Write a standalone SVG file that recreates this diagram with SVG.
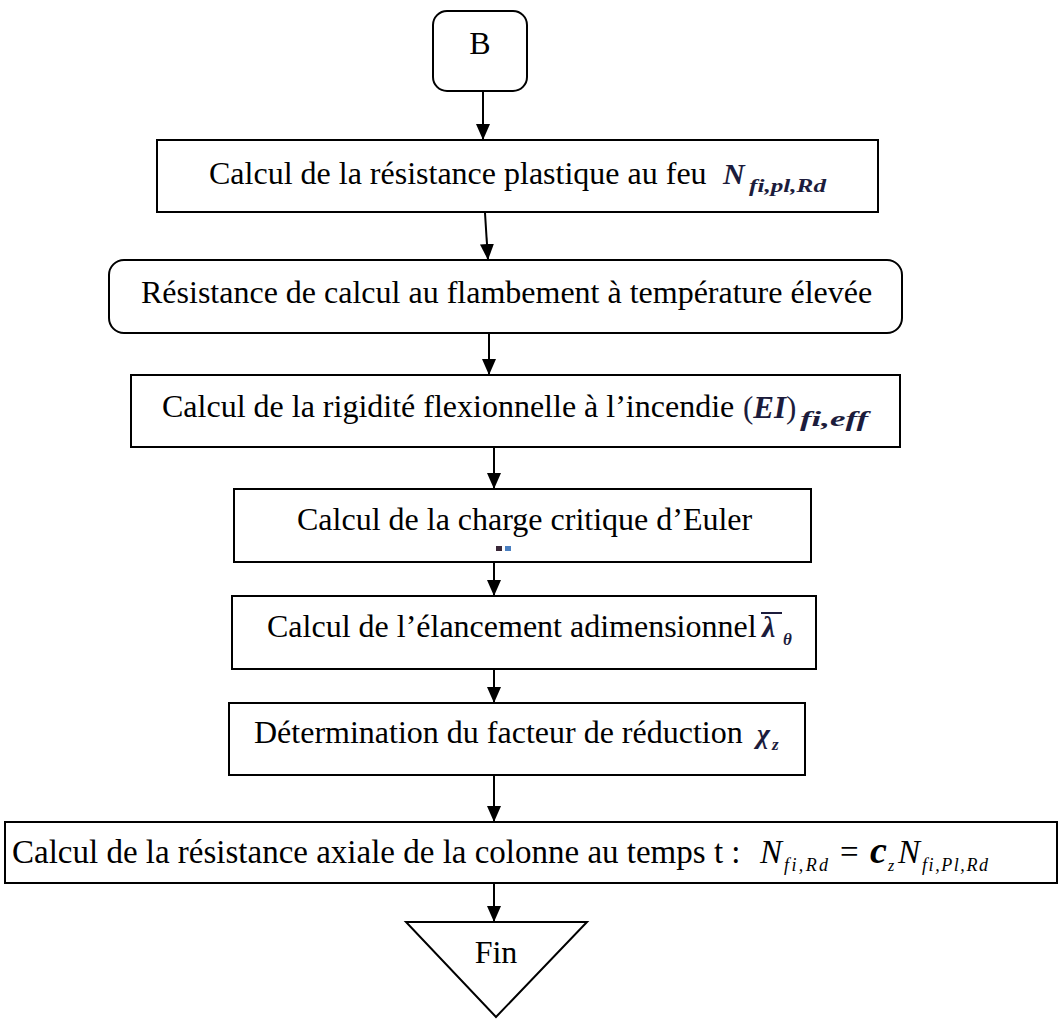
<svg xmlns="http://www.w3.org/2000/svg" width="1059" height="1019" viewBox="0 0 1059 1019">
<style>
.box{fill:#fff;stroke:#000;stroke-width:2}
.t{font-family:"Liberation Serif","Times New Roman",serif;font-size:32px;fill:#000}
.m{font-family:"Liberation Serif","Times New Roman",serif;font-style:italic;font-weight:bold;fill:#1c1c3c}
.mi{font-family:"Liberation Serif","Times New Roman",serif;font-style:italic;fill:#000}
.c line,.c path{stroke:#000;stroke-width:2;fill:none}
</style>
<defs>
<marker id="ah" markerUnits="userSpaceOnUse" markerWidth="16" markerHeight="14" refX="16" refY="7" orient="auto">
<path d="M0,0 L16,7 L0,14 z" fill="#000"/>
</marker>
</defs>
<rect width="1059" height="1019" fill="#fff"/>
<g id="connectors" class="c">
<line x1="483" y1="91" x2="483" y2="140" marker-end="url(#ah)"/>
<line x1="485" y1="213" x2="488" y2="260" marker-end="url(#ah)"/>
<line x1="489" y1="334" x2="489" y2="375" marker-end="url(#ah)"/>
<line x1="494" y1="448" x2="494" y2="489" marker-end="url(#ah)"/>
<line x1="494" y1="563" x2="494" y2="596" marker-end="url(#ah)"/>
<line x1="494" y1="670" x2="494" y2="703" marker-end="url(#ah)"/>
<line x1="494" y1="776" x2="494" y2="822" marker-end="url(#ah)"/>
<line x1="494" y1="884" x2="494" y2="922" marker-end="url(#ah)"/>
</g>
<g id="start">
<rect class="box" x="433" y="11" width="94" height="80" rx="14"/>
<text class="t" x="480" y="54" text-anchor="middle">B</text>
</g>
<g id="n1">
<rect class="box" x="157" y="140" width="721" height="72"/>
<text class="t" x="209" y="184">Calcul de la résistance plastique au feu</text>
<text class="m" x="723" y="184" font-size="30">N</text>
<text class="m" x="749" y="192" font-size="19" textLength="77" lengthAdjust="spacingAndGlyphs">fi,pl,Rd</text>
</g>
<g id="n2">
<rect class="box" x="109" y="260" width="793" height="73" rx="15"/>
<text class="t" x="141" y="303">Résistance de calcul au flambement à température élevée</text>
</g>
<g id="n3">
<rect class="box" x="131" y="375" width="769" height="72"/>
<text class="t" x="162" y="417">Calcul de la rigidité flexionnelle à l’incendie</text>
<text x="743" y="418" font-size="31" style="font-family:'Liberation Serif',serif;fill:#1c1c3c">(<tspan class="m">EI</tspan>)</text>
<text class="m" x="800" y="426" font-size="20" textLength="68" lengthAdjust="spacingAndGlyphs">fi,eff</text>
</g>
<g id="n4">
<rect class="box" x="234" y="489" width="577" height="73"/>
<text class="t" x="297" y="530">Calcul de la charge critique d’Euler</text>
<rect x="496" y="546" width="6" height="5" fill="#3a2838"/>
<rect x="505" y="546" width="6" height="5" fill="#4a7fc0"/>
</g>
<g id="n5">
<rect class="box" x="232" y="596" width="584" height="73"/>
<text class="t" x="267" y="637">Calcul de l’élancement adimensionnel</text>
<line x1="761" y1="613" x2="782" y2="613" stroke="#1c1c3c" stroke-width="2"/>
<text class="m" x="762" y="637" font-size="30">λ</text>
<text class="m" x="783" y="645" font-size="17">θ</text>
</g>
<g id="n6">
<rect class="box" x="229" y="703" width="576" height="72"/>
<text class="t" x="254" y="743">Détermination du facteur de réduction</text>
<text class="m" x="757" y="743" font-size="28">χ</text>
<text class="m" x="772" y="750" font-size="17">z</text>
</g>
<g id="n7">
<rect class="box" x="5" y="822" width="1052" height="61"/>
<text class="t" x="12" y="863" font-size="33" style="font-size:33px">Calcul de la résistance axiale de la colonne au temps t :</text>
<text class="mi" x="760" y="863" font-size="33">N</text>
<text class="mi" x="784" y="871" font-size="18" textLength="44" lengthAdjust="spacing">fi,Rd</text>
<text x="840" y="863" font-size="33" style="font-family:'Liberation Serif',serif">=</text>
<text class="mi" x="870" y="863" font-size="38" font-weight="bold">c</text>
<text class="mi" x="888" y="871" font-size="16">z</text>
<text class="mi" x="898" y="863" font-size="33">N</text>
<text class="mi" x="922" y="871" font-size="18" textLength="66" lengthAdjust="spacing">fi,Pl,Rd</text>
</g>
<g id="end">
<polygon class="box" points="406,922 587,922 496,1017"/>
<text class="t" x="496" y="963" text-anchor="middle">Fin</text>
</g>
</svg>
